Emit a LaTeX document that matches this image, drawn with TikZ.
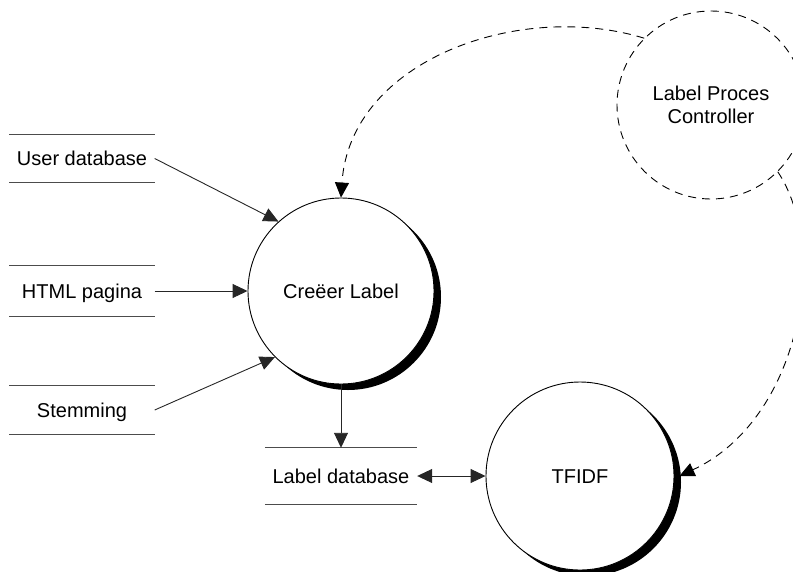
\documentclass[tikz,border=0pt]{standalone}
\usepackage{fontspec}
\setmainfont{Liberation Sans}
\usetikzlibrary{arrows.meta}
\begin{document}
\begin{tikzpicture}[x=1pt,y=-1pt,
  every node/.style={font=\fontsize{20}{23}\selectfont},
  proc/.style={circle,draw,line width=0.9pt,fill=white,minimum size=186pt,inner sep=0pt,
    text height=14.3pt,text depth=0pt},
  ctrl/.style={circle,draw,line width=0.9pt,dash pattern=on 8pt off 6pt,
    minimum size=188pt,inner sep=0pt,align=center},
  store/.style={minimum width=145pt,inner sep=0pt,text height=14.3pt,text depth=0pt},
  storeline/.style={draw=black!70,line width=1.2pt},
  tip/.tip={Triangle[length=15pt,width=14pt]},
  flow/.style={line width=0.9pt,draw=black!85,-tip},
  dflow/.style={line width=0.9pt,draw=black!85,tip-tip},
  ctrlflow/.style={flow,draw=black,dash pattern=on 8pt off 6pt},
  shadow/.style={fill=black}
]
\useasboundingbox (0,0) rectangle (793,571);
\clip (0,0) rectangle (793,571);

% drop shadows of the two processes
\fill[shadow] (348,297) circle[radius=93pt];
\fill[shadow] (587,482) circle[radius=94pt];

% processes
\node[proc] (cl) at (341,291) {Creëer Label};
\node[proc,minimum size=188pt] (tf) at (580,476) {TFIDF};
\node[ctrl] (lpc) at (711,105) {Label Proces\\Controller};

% data stores
\node[store,minimum height=47pt] (ud) at (82,158.5) {User database};
\node[store,minimum height=50pt] (hp) at (82,291) {HTML pagina};
\node[store,minimum height=48pt] (st) at (82,410) {Stemming};
\node[store,minimum width=152pt,minimum height=56pt] (ld) at (341,476) {Label database};
\foreach \s in {ud,hp,st,ld}{
  \draw[storeline] (\s.north west) -- (\s.north east);
  \draw[storeline] (\s.south west) -- (\s.south east);
}

% data flows
\draw[flow] (ud.east) -- (cl.132);
\draw[flow] (hp.east) -- (cl.west);
\draw[flow] (st.east) -- (cl.225);
\draw[flow] (cl.south) -- (ld.north);
\draw[dflow] (ld.east) -- (tf.west);

% control flows
\coordinate (tfin) at ([xshift=5pt]tf.east);
\draw[ctrlflow] (lpc.135) .. controls (520,0) and (350,60) .. (cl.north);
\draw[ctrlflow] (lpc.-45) .. controls (830,250) and (800,420) .. (tfin);
\end{tikzpicture}
\end{document}
